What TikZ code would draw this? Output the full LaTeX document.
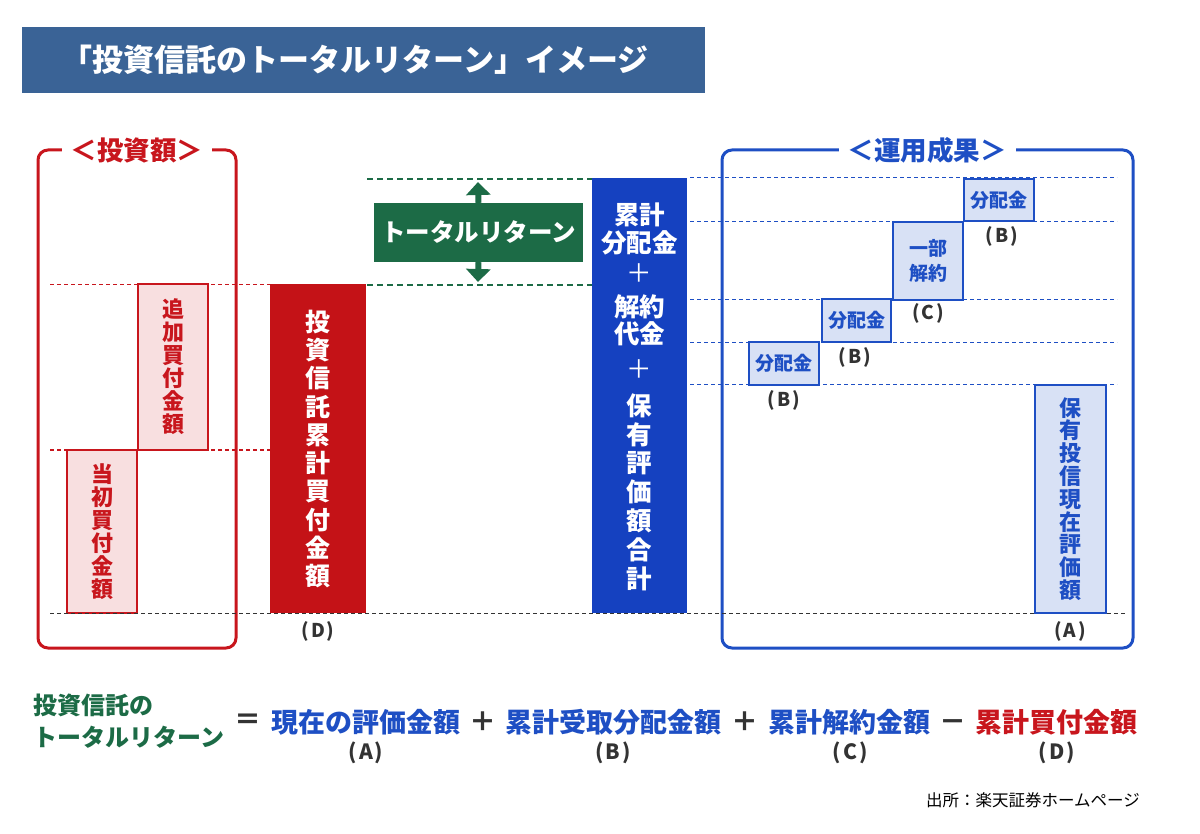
\documentclass[tikz,border=0pt]{standalone}
\usepackage{fontspec}
\setmainfont{Noto Sans CJK JP}
\usetikzlibrary{arrows.meta}
\definecolor{titlebg}{HTML}{3A6396}
\definecolor{redc}{HTML}{C8161D}
\definecolor{redbar}{HTML}{C41217}
\definecolor{pinkf}{HTML}{F8DFE0}
\definecolor{greenc}{HTML}{1C6B46}
\definecolor{bluec}{HTML}{1E4FC4}
\definecolor{bluebar}{HTML}{1541C0}
\definecolor{bluef}{HTML}{D8E1F5}
\definecolor{darkc}{HTML}{333333}
\newcommand{\fsz}[1]{\fontsize{#1}{#1}\selectfont\bfseries}
\newcommand{\fszb}[2]{\fontsize{#1}{#2}\selectfont\bfseries}
\newcommand{\lab}[1]{(\kern2pt#1\kern2pt)}
\begin{document}
\begin{tikzpicture}[x=1pt,y=-1pt,
  frame/.style={line width=3pt, rounded corners=10pt},
  guide/.style={line width=1.1pt, dash pattern=on 4pt off 3pt},
  gguide/.style={greenc, line width=2pt, dash pattern=on 6pt off 4pt},
  rbox/.style={draw=redc, fill=pinkf, line width=2pt, text=redc, inner sep=0pt, align=center, font=\fszb{22}{23}},
  bbox/.style={draw=bluec, fill=bluef, line width=2pt, text=bluec, inner sep=0pt, align=center, font=\fszb{19}{25}},
  lbl/.style={text=darkc, font=\fsz{19}, inner sep=0pt},
  head/.style={fill=white, inner xsep=9pt, inner ysep=0pt, font=\fsz{26.5}},
  wtext/.style={text=white, inner sep=0pt, align=center},
  garrow/.style={greenc, line width=6pt, -{Triangle[width=24pt,length=13pt]}},
  eq/.style={font=\fsz{27}, inner sep=0pt}
]
\useasboundingbox (0,0) rectangle (1200,834);

% title banner
\node[fill=titlebg, minimum width=683pt, minimum height=66pt, inner sep=0pt, anchor=north west] (banner) at (22,27) {};
\node[text=white, font=\fsz{31}, inner sep=0pt] (title) at (355,60) {「投資信託のトータルリターン」イメージ};

% ---------- left: investment ----------
\draw[redc, frame] (38,150) rectangle (236,648);
\node[head, text=redc] (lhead) at (137,150) {＜投資額＞};

\coordinate (r1a) at (50,284.5); \coordinate (r1b) at (270,284.5);
\coordinate (r2a) at (50,450);   \coordinate (r2b) at (270,450);
\draw[redc, guide] (r1a) -- (r1b);
\draw[redc, guide] (r2a) -- (r2b);

\node[rbox, minimum width=70pt, minimum height=163pt] (init) at (102,531.5) {当\\初\\買\\付\\金\\額};
\node[rbox, minimum width=70pt, minimum height=166pt] (add) at (173,367) {追\\加\\買\\付\\金\\額};

\node[fill=redbar, minimum width=96pt, minimum height=329pt, inner sep=0pt] (dbar) at (318,448.5) {};
\node[wtext, font=\fszb{25}{28.3}] (dtext) at (318,449) {投\\資\\信\\託\\累\\計\\買\\付\\金\\額};
\node[lbl] (dlbl) at (318,631) {\lab{D}};

% ---------- total return ----------
\coordinate (g1a) at (367,179); \coordinate (g1b) at (592,179);
\coordinate (g2a) at (367,285); \coordinate (g2b) at (592,285);
\draw[gguide] (g1a) -- (g1b);
\draw[gguide] (g2a) -- (g2b);
\coordinate (trtop) at (478,182);
\coordinate (trbot) at (478,282);
\node[fill=greenc, minimum width=209pt, minimum height=59pt, inner sep=0pt, text=white, font=\fsz{24.5}] (trbox) at (478.5,232.5) {トータルリターン};
\draw[garrow] (trbox.north) -- (trtop);
\draw[garrow] (trbox.south) -- (trbot);

% ---------- blue bar ----------
\node[fill=bluebar, minimum width=95pt, minimum height=435pt, inner sep=0pt] (bbar) at (639.5,395.5) {};
\node[wtext, font=\fszb{25.5}{28}] (bt1) at (639.5,229) {累計\\分配金};
\node[wtext, font=\fontsize{25.5}{25.5}\selectfont] (bp1) at (639.5,273) {＋};
\node[wtext, font=\fszb{25.5}{27}] (bt2) at (639.5,320) {解約\\代金};
\node[wtext, font=\fontsize{25.5}{25.5}\selectfont] (bp2) at (639.5,369) {＋};
\node[wtext, font=\fszb{25.5}{28.8}] (bt3) at (639.5,492) {保\\有\\評\\価\\額\\合\\計};

% ---------- right: results ----------
\draw[bluec, frame] (722,150) rectangle (1133,648);
\node[head, text=bluec] (rhead) at (927,150) {＜運用成果＞};

\foreach \yy/\nm in {178/l1,222/l2,299.5/l3,342.5/l4,385/l5}{
  \coordinate (\nm a) at (690,\yy); \coordinate (\nm b) at (1117,\yy);
  \draw[bluec, guide, line width=1pt] (\nm a) -- (\nm b);
}

\coordinate (k1) at (50,613); \coordinate (k2) at (1125,613);
\draw[darkc, guide, line width=1pt] (k1) -- (k2);

\node[bbox, minimum width=70pt, minimum height=43pt] (b1) at (784,363.5) {分配金};
\node[bbox, minimum width=69pt, minimum height=43pt] (b2) at (856.5,320.5) {分配金};
\node[bbox, minimum width=70pt, minimum height=78pt] (c1) at (928,261) {一部\\解約};
\node[bbox, minimum width=70pt, minimum height=42pt] (b3) at (999,200) {分配金};
\node[bbox, minimum width=71pt, minimum height=228pt, font=\fszb{22}{22.8}] (a1) at (1070.5,499) {保\\有\\投\\信\\現\\在\\評\\価\\額};

\node[lbl] (b1l) at (784,400) {\lab{B}};
\node[lbl] (b2l) at (855,357) {\lab{B}};
\node[lbl] (c1l) at (928,313) {\lab{C}};
\node[lbl] (b3l) at (1002,236) {\lab{B}};
\node[lbl] (a1l) at (1070,631) {\lab{A}};

% ---------- formula ----------
\node[text=greenc, font=\fszb{24}{32}, align=left, inner sep=0pt, anchor=west] (ftr) at (33,721) {投資信託の\\トータルリターン};
\node[eq, text=darkc] (feq) at (248,722) {＝};
\node[eq, text=bluec] (fa) at (366,722) {現在の評価金額};
\node[eq, text=darkc] (fp1) at (483,722) {＋};
\node[eq, text=bluec] (fb) at (613.5,722) {累計受取分配金額};
\node[eq, text=darkc] (fp2) at (745,722) {＋};
\node[eq, text=bluec] (fc) at (849,722) {累計解約金額};
\node[eq, text=darkc] (fm) at (953,726) {－};
\node[eq, text=redc] (fd) at (1056.5,722) {累計買付金額};
\node[lbl, font=\fsz{21}] (fal) at (366,753) {\lab{A}};
\node[lbl, font=\fsz{21}] (fbl) at (613,753) {\lab{B}};
\node[lbl, font=\fsz{21}] (fcl) at (850,753) {\lab{C}};
\node[lbl, font=\fsz{21}] (fdl) at (1057,753) {\lab{D}};

\node[font=\fontsize{16.5}{16.5}\selectfont, inner sep=0pt, anchor=east] (src) at (1140,800) {出所：楽天証券ホームページ};
\end{tikzpicture}
\end{document}
